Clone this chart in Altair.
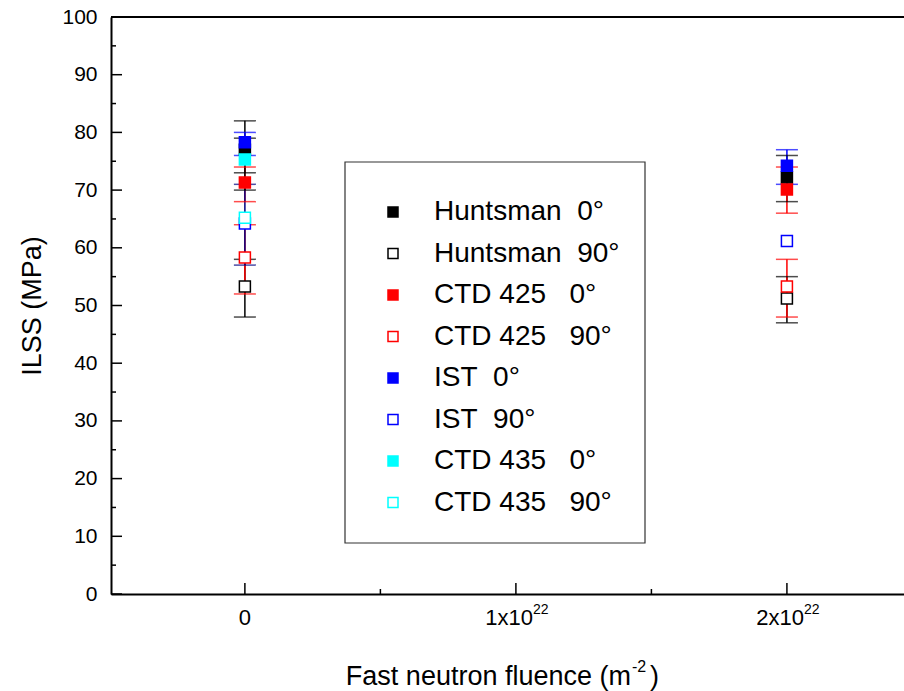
import altair as alt
import pandas as pd

NB = "\u00a0"
series = ["Huntsman  0°", "Huntsman  90°", "CTD 425   0°", "CTD 425   90°",
          "IST  0°", "IST  90°", "CTD 435   0°", "CTD 435   90°"]
series = [s.replace(" ", NB) for s in series]
stroke_colors = ["#000000", "#000000", "#FF0000", "#FF0000", "#0000FF", "#0000FF", "#00FFFF", "#00FFFF"]
fill_colors = ["#000000", "#FFFFFF", "#FF0000", "#FFFFFF", "#0000FF", "#FFFFFF", "#00FFFF", "#FFFFFF"]
err_colors = ["#000000", "#000000", "#FF0000", "#FF0000", "#0000FF", "#000080", "#000000", "#00FFFF"]

fluence = [0, 2]  # units of 1e22 m^-2
ilss_f0 = [77.0, 53.3, 71.3, 58.3, 78.3, 64.2, 75.3, 65.2]
ilss_f2 = [72.2, 51.2, 70.1, 53.3, 74.2, 61.2, None, None]
err_lo_f0 = [73, 48, 68, 52, 76, 57, 70, None]
err_hi_f0 = [82, 58, 74, 64, 80, 71, 79, None]
err_lo_f2 = [68, 47, 66, 48, 71, None, None, None]
err_hi_f2 = [76, 55, 74, 58, 77, None, None, None]

y_major = list(range(0, 101, 10))
y_minor = list(range(5, 100, 10))
x_major = [0, 1, 2]
x_minor = [0.5, 1.5]
x_label_main = ["0", "1x10", "2x10"]
x_label_sup = ["", "22", "22"]

W, H = 793, 577
FONT = "Liberation Sans"

pts, errs, caps = [], [], []
for fx, vals, los, his in [(fluence[0], ilss_f0, err_lo_f0, err_hi_f0),
                           (fluence[1], ilss_f2, err_lo_f2, err_hi_f2)]:
    for i, s in enumerate(series):
        if vals[i] is not None:
            pts.append({"x": fx, "y": vals[i], "series": s, "order": i})
        if los[i] is not None:
            errs.append({"x": fx, "lo": los[i], "hi": his[i], "ec": err_colors[i], "order": i})
            caps.append({"x": fx, "y": los[i], "ec": err_colors[i], "order": i})
            caps.append({"x": fx, "y": his[i], "ec": err_colors[i], "order": i})

pts_df = pd.DataFrame(pts)
err_df = pd.DataFrame(errs)
cap_df = pd.DataFrame(caps)

xs = alt.Scale(domain=[-0.494, 2.432], nice=False, zero=False)
ys = alt.Scale(domain=[0, 100], nice=False)

x_axis = alt.Axis(labels=False, ticks=False, grid=False, title=None,
                  domainColor="black", domainWidth=2)
y_axis = alt.Axis(values=y_major, ticks=False, grid=False, labelPadding=14,
                  labelFont=FONT, labelFontSize=21, labelColor="black",
                  domainColor="black", domainWidth=2,
                  title="ILSS (MPa)", titleFont=FONT, titleFontSize=27,
                  titleFontWeight="normal", titleColor="black",
                  titleX=-79, titleY=H / 2, titleBaseline="middle")

frame = alt.Chart(pd.DataFrame({"a": [0]})).mark_rect(
    fill="white", stroke="#333333", strokeWidth=1.2
).encode(x=alt.value(234), x2=alt.value(534), y=alt.value(145), y2=alt.value(526))

top_border = alt.Chart(pd.DataFrame({"a": [0]})).mark_rule(
    color="black", strokeWidth=2
).encode(y=alt.value(0), x=alt.value(0), x2=alt.value(W))

ymaj = alt.Chart(pd.DataFrame({"v": y_major})).mark_rule(color="black", strokeWidth=1.5).encode(
    y=alt.Y("v:Q", scale=ys, axis=y_axis), x=alt.value(0), x2=alt.value(11))
ymin = alt.Chart(pd.DataFrame({"v": y_minor})).mark_rule(color="black", strokeWidth=1.5).encode(
    y=alt.Y("v:Q", scale=ys, axis=y_axis), x=alt.value(0), x2=alt.value(5))
xmaj = alt.Chart(pd.DataFrame({"v": x_major})).mark_rule(color="black", strokeWidth=1.5).encode(
    x=alt.X("v:Q", scale=xs, axis=x_axis), y=alt.value(H), y2=alt.value(H - 11))
xmin = alt.Chart(pd.DataFrame({"v": x_minor})).mark_rule(color="black", strokeWidth=1.5).encode(
    x=alt.X("v:Q", scale=xs, axis=x_axis), y=alt.value(H), y2=alt.value(H - 5))

err_lines = alt.Chart(err_df).mark_rule(strokeWidth=1.5).encode(
    x=alt.X("x:Q", scale=xs, axis=x_axis),
    y=alt.Y("lo:Q", scale=ys, axis=y_axis), y2="hi:Q",
    stroke=alt.Stroke("ec:N", scale=None),
    order="order:Q")
err_caps = alt.Chart(cap_df).mark_tick(orient="horizontal", size=22, thickness=1.5).encode(
    x=alt.X("x:Q", scale=xs, axis=x_axis),
    y=alt.Y("y:Q", scale=ys, axis=y_axis),
    color=alt.Color("ec:N", scale=None),
    order="order:Q")

legend = alt.Legend(
    orient="none", legendX=268, legendY=181, title=None, padding=0,
    symbolType="square", symbolSize=100, symbolStrokeWidth=1.5,
    labelFont=FONT, labelFontSize=28, labelColor="black", labelLimit=400,
    labelOffset=27, rowPadding=13.5)

points = alt.Chart(pts_df).mark_point(shape="square", size=121, strokeWidth=1.5, opacity=1, fillOpacity=1).encode(
    x=alt.X("x:Q", scale=xs, axis=x_axis),
    y=alt.Y("y:Q", scale=ys, axis=y_axis),
    fill=alt.Fill("series:N", scale=alt.Scale(domain=series, range=fill_colors), legend=legend),
    stroke=alt.Stroke("series:N", scale=alt.Scale(domain=series, range=stroke_colors), legend=legend),
    order="order:Q")

lab_df = pd.DataFrame({"x": x_major, "main": x_label_main, "sup": x_label_sup})
zero_lab = alt.Chart(lab_df[lab_df["sup"] == ""]).mark_text(
    font=FONT, fontSize=22, align="center", baseline="alphabetic", color="black").encode(
    x=alt.X("x:Q", scale=xs, axis=x_axis), y=alt.value(608), text="main:N")
pow_lab = alt.Chart(lab_df[lab_df["sup"] != ""]).mark_text(
    font=FONT, fontSize=22, align="right", baseline="alphabetic", dx=17, color="black").encode(
    x=alt.X("x:Q", scale=xs, axis=x_axis), y=alt.value(608), text="main:N")
sup_lab = alt.Chart(lab_df[lab_df["sup"] != ""]).mark_text(
    font=FONT, fontSize=14, align="left", baseline="alphabetic", dx=17, color="black").encode(
    x=alt.X("x:Q", scale=xs, axis=x_axis), y=alt.value(597), text="sup:N")

title_df = pd.DataFrame({"t": ["Fast neutron fluence (m"], "s": ["-2"], "c": [")"]})
t_main = alt.Chart(title_df).mark_text(font=FONT, fontSize=27, align="right", baseline="alphabetic",
                                       color="black").encode(x=alt.value(520), y=alt.value(668), text="t:N")
t_sup = alt.Chart(title_df).mark_text(font=FONT, fontSize=16, align="left", baseline="alphabetic",
                                      color="black").encode(x=alt.value(521), y=alt.value(655), text="s:N")
t_close = alt.Chart(title_df).mark_text(font=FONT, fontSize=27, align="left", baseline="alphabetic",
                                        color="black").encode(x=alt.value(539), y=alt.value(668), text="c:N")

chart = alt.layer(
    frame, top_border, ymaj, ymin, xmaj, xmin, err_lines, err_caps, points,
    zero_lab, pow_lab, sup_lab, t_main, t_sup, t_close
).properties(
    width=W, height=H,
    autosize=alt.AutoSizeParams(type="none"),
    padding={"left": 111, "top": 17, "right": 0, "bottom": 97},
).configure_view(stroke=None).configure(background="white")

chart.save("out.html", embed_options={"renderer": "svg", "actions": False})
